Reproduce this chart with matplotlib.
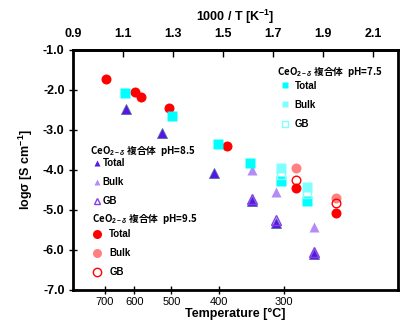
import matplotlib
matplotlib.use("Agg")
import matplotlib.pyplot as plt
from matplotlib.lines import Line2D

plt.rcParams['font.family'] = ['Liberation Sans', 'Noto Sans CJK JP']
plt.rcParams['mathtext.fontset'] = 'custom'
plt.rcParams['mathtext.rm'] = 'Liberation Sans:bold'
plt.rcParams['mathtext.it'] = 'Liberation Sans:italic:bold'
plt.rcParams['mathtext.bf'] = 'Liberation Sans:bold'

# pH 9.5 (red circles), x = 1000/T [K^-1], y = log sigma
ph95_total_x = [1.031, 1.147, 1.174, 1.283, 1.514, 1.79, 1.95]
ph95_total_y = [-1.73, -2.06, -2.17, -2.46, -3.39, -4.44, -5.08]
ph95_bulk_x = [1.79, 1.95]
ph95_bulk_y = [-3.96, -4.71]
ph95_gb_x = [1.79, 1.95]
ph95_gb_y = [-4.25, -4.83]

# pH 7.5 (cyan squares)
ph75_total_x = [1.11, 1.294, 1.48, 1.607, 1.731, 1.834]
ph75_total_y = [-2.08, -2.64, -3.36, -3.83, -4.28, -4.78]
ph75_bulk_x = [1.731, 1.834]
ph75_bulk_y = [-3.95, -4.43]
ph75_gb_x = [1.731, 1.834]
ph75_gb_y = [-4.12, -4.60]

# pH 8.5 (triangles)
ph85_total_x = [1.111, 1.256, 1.463, 1.616, 1.711, 1.864]
ph85_total_y = [-2.48, -3.07, -4.07, -4.78, -5.32, -6.11]
ph85_bulk_x = [1.616, 1.711, 1.864]
ph85_bulk_y = [-4.00, -4.54, -5.42]
ph85_gb_x = [1.616, 1.711, 1.864]
ph85_gb_y = [-4.72, -5.26, -6.05]

temp_ticks = [700, 600, 500, 400, 300]
top_ticks = [0.9, 1.1, 1.3, 1.5, 1.7, 1.9, 2.1]
y_ticks = [-1.0, -2.0, -3.0, -4.0, -5.0, -6.0, -7.0]
entry_labels = ['Total', 'Bulk', 'GB']

red, red_l = '#ff0000', '#ff8080'
cyan, cyan_l = '#00ffff', '#80ffff'
tri_total, tri_bulk, tri_gb = '#5a14e6', '#b48cf5', '#8a3cf0'

fig = plt.figure(figsize=(4.03, 3.24), dpi=100)
ax = fig.add_axes([0.181, 0.105, 0.807, 0.741])

ms_c = 7.2
ax.plot(ph95_total_x, ph95_total_y, 'o', color=red, ms=ms_c, mec='none', zorder=3)
ax.plot(ph95_bulk_x, ph95_bulk_y, 'o', color=red_l, ms=ms_c, mec='none', zorder=3)
ax.plot(ph95_gb_x, ph95_gb_y, 'o', mfc='none', mec=red, mew=1.0, ms=ms_c - 1, zorder=3)

ax.plot(ph75_total_x, ph75_total_y, 's', color=cyan, ms=7.2, mec='none', zorder=3)
ax.plot(ph75_bulk_x, ph75_bulk_y, 's', color=cyan_l, ms=7.2, mec='none', zorder=3)
ax.plot(ph75_gb_x, ph75_gb_y, 's', mfc='none', mec=cyan_l, mew=1.0, ms=6.2, zorder=3)

ax.plot(ph85_bulk_x, ph85_bulk_y, '^', color=tri_bulk, ms=6.5, mec='none', zorder=2)
ax.plot(ph85_total_x, ph85_total_y, '^', mfc=tri_total, mec='#4a6fa5', mew=0.6, ms=7, zorder=2)
ax.plot(ph85_gb_x, ph85_gb_y, '^', mfc='none', mec=tri_gb, mew=1.0, ms=7, zorder=2)

ax.set_xlim(0.9, 2.2)
ax.set_ylim(-7.0, -1.0)
ax.set_yticks(y_ticks)
ax.set_yticklabels([f'{v:.1f}' for v in y_ticks], fontsize=9, fontweight='bold')
ax.set_ylabel('log\u03c3 [S cm$^{-1}$]', fontsize=9, fontweight='bold', labelpad=6)

ax.set_xticks([1000 / (t + 273.15) for t in temp_ticks])
ax.set_xticklabels([str(t) for t in temp_ticks], fontsize=8)
ax.set_xlabel('Temperature [\u00b0C]', fontsize=9, fontweight='bold', labelpad=1)
ax.tick_params(axis='x', direction='inout', length=6, width=1.0, pad=2)
ax.tick_params(axis='y', direction='inout', length=6, width=1.0, pad=3)

top = ax.secondary_xaxis('top')
top.set_xticks(top_ticks)
top.set_xticklabels([f'{v:.1f}' for v in top_ticks], fontsize=9, fontweight='bold')
top.tick_params(direction='in', length=5, width=1.0, pad=7)
top.set_xlabel('1000 / T [K$^{-1}$]', fontsize=9, fontweight='bold', labelpad=5)
top.spines['top'].set_linewidth(2.0)

for s in ax.spines.values():
    s.set_linewidth(2.0)

title_font = dict(family='Noto Sans CJK JP', size=7, weight='bold')
ax.text(0.628, 0.908, 'CeO$_{2-\\delta}$ 複合体  pH=7.5', transform=ax.transAxes,
        va='center', ha='left', **title_font)
ax.text(0.052, 0.583, 'CeO$_{2-\\delta}$ 複合体  pH=8.5', transform=ax.transAxes,
        va='center', ha='left', **title_font)
ax.text(0.058, 0.296, 'CeO$_{2-\\delta}$ 複合体  pH=9.5', transform=ax.transAxes,
        va='center', ha='left', **title_font)

leg_kw = dict(frameon=False, loc='upper left', borderpad=0, borderaxespad=0,
              handlelength=1.0, labelspacing=0.95,
              prop={'size': 7, 'weight': 'bold'})

h75 = [Line2D([], [], ls='none', marker='s', color=cyan, mec='none', ms=4.5),
       Line2D([], [], ls='none', marker='s', color=cyan_l, mec='none', ms=4.5),
       Line2D([], [], ls='none', marker='s', mfc='none', mec=cyan_l, mew=1.0, ms=4.5)]
leg1 = ax.legend(h75, entry_labels, bbox_to_anchor=(0.637, 0.872),
                 handletextpad=0.5, **leg_kw)
ax.add_artist(leg1)

h85 = [Line2D([], [], ls='none', marker='^', color=tri_total, mec='none', ms=5),
       Line2D([], [], ls='none', marker='^', color=tri_bulk, mec='none', ms=5),
       Line2D([], [], ls='none', marker='^', mfc='none', mec=tri_gb, mew=1.0, ms=5)]
leg2 = ax.legend(h85, entry_labels, bbox_to_anchor=(0.058, 0.550),
                 handletextpad=0.1, **leg_kw)
ax.add_artist(leg2)

h95 = [Line2D([], [], ls='none', marker='o', color=red, mec='none', ms=6.5),
       Line2D([], [], ls='none', marker='o', color=red_l, mec='none', ms=6.5),
       Line2D([], [], ls='none', marker='o', mfc='none', mec=red, mew=1.0, ms=6)]
leg3 = ax.legend(h95, entry_labels, bbox_to_anchor=(0.058, 0.254),
                 handletextpad=0.8, **leg_kw)

fig.savefig('out.png', dpi=100)
